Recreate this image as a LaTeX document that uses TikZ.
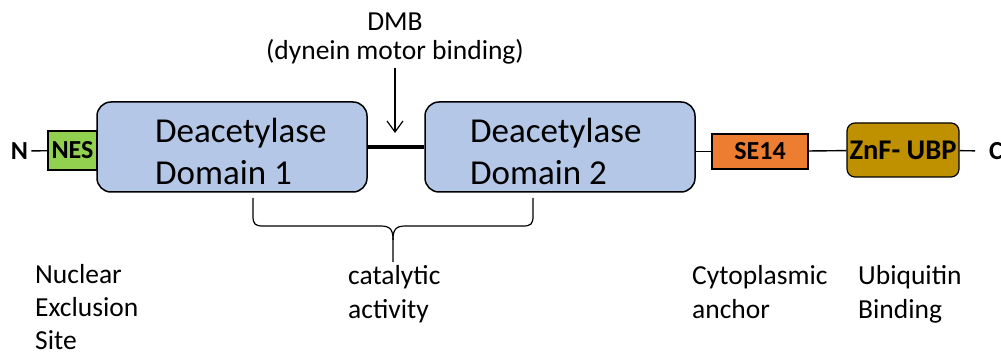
\documentclass[tikz,border=0pt]{standalone}
\usepackage{fontspec}
\setmainfont{Carlito}
\usetikzlibrary{arrows.meta}
\definecolor{domainblue}{HTML}{B4C7E7}
\definecolor{nesgreen}{HTML}{92D050}
\definecolor{seorange}{HTML}{ED7D31}
\definecolor{ubpgold}{HTML}{BF9000}
\newcommand{\domfont}{\fontsize{35}{42}\selectfont}
\newcommand{\labfont}{\fontsize{27.5}{33}\selectfont}
\newcommand{\boxfont}{\fontsize{26}{30}\selectfont\bfseries}

\begin{document}
\begin{tikzpicture}[x=1pt,y=-1pt,
  domainbox/.style={draw, line width=1.5pt, rounded corners=14pt, fill=domainblue,
    minimum width=270pt, minimum height=90pt, inner sep=0pt},
  motif/.style={draw, line width=1.2pt, inner sep=0pt, font=\boxfont},
  link/.style={line width=1.4pt},
  funlabel/.style={anchor=base west, align=left, inner sep=0pt, font=\labfont}]
\useasboundingbox (0,0) rectangle (1001,355);

% protein domains
\node[motif, fill=nesgreen, minimum width=49pt, minimum height=39pt] (nes) at (72.5,150.5) {NES};
\node[domainbox] (d1) at (232,147) {};
\node[domainbox] (d2) at (560,147) {};
\node[motif, fill=seorange, minimum width=96pt, minimum height=35pt] (se14) at (760,151.5) {SE14};
\node[motif, fill=ubpgold, rounded corners=8pt, minimum width=112pt, minimum height=54pt,
  font=\fontsize{28.5}{30}\selectfont\bfseries] (znf) at (903,150) {ZnF- UBP};

% termini
\node[font=\boxfont, inner sep=3pt] (nterm) at (19.5,151) {N};
\node[font=\boxfont, anchor=west, inner sep=0pt] (cterm) at (989,151) {C};

% domain names (base = last line)
\node[anchor=base west, align=left, inner sep=0pt, font=\domfont] (d1text) at (155,185) {Deacetylase\\Domain 1};
\node[anchor=base west, align=left, inner sep=0pt, font=\domfont] (d2text) at (470,185) {Deacetylase\\Domain 2};

% linkers
\draw[link] (nterm) -- (nes);
\draw[line width=4pt] (d1) -- (d2);
\draw[link] (d2.east |- se14.west) -- (se14.west);
\draw[link] (se14) -- (znf);
\draw[link, shorten >=14pt] (znf) -- (cterm.west);

% dynein motor binding site
\node[anchor=base, align=center, inner sep=3pt, font=\fontsize{27.5}{29}\selectfont] (dmb) at (395,60) {DMB\\(dynein motor binding)};
\coordinate (dmbsite) at (395,133);
\draw[line width=1.2pt, -{Straight Barb[length=11pt,width=16pt]}] (dmb.south) -- (dmbsite);

% brace for the two deacetylase domains
\coordinate (bracetip) at (393,262);
\draw[line width=1.2pt] (253,198) -- (253,216) .. controls (253,224) and (255,226) .. (263,226)
  -- (380,226) .. controls (390,226) and (393,229) .. (393,240) -- (bracetip);
\draw[line width=1.2pt] (533,198) -- (533,216) .. controls (533,224) and (531,226) .. (523,226)
  -- (406,226) .. controls (396,226) and (393,229) .. (393,240);

% functions
\node[funlabel] (nesfun) at (35,349) {Nuclear\\Exclusion\\Site};
\node[funlabel] (catfun) at (348,318) {catalytic\\activity};
\node[funlabel] (sefun) at (692,318) {Cytoplasmic\\anchor};
\node[funlabel] (ubpfun) at (858,318) {Ubiquitin\\Binding};
\end{tikzpicture}
\end{document}
